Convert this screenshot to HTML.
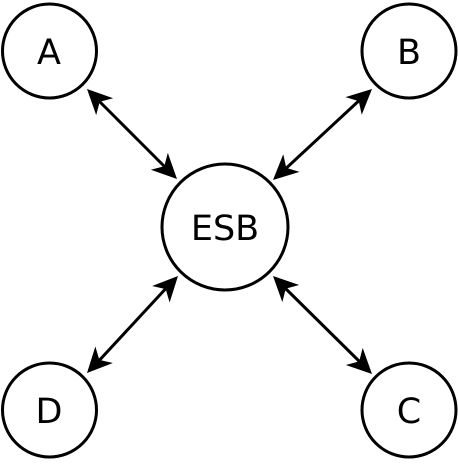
<!DOCTYPE html>
<html><head><meta charset="utf-8"><style>
html,body{margin:0;padding:0;background:#fff;}
svg{display:block;}
text{font-family:"DejaVu Sans","Liberation Sans",sans-serif;font-size:35px;}
</style></head><body>
<svg width="458" height="464" viewBox="0 0 458 464" xmlns="http://www.w3.org/2000/svg">
<defs>
<path id="h" d="M0,0 L-25,-12 L-18,0 L-25,12 Z" fill="#000"/>
</defs>
<g fill="#fff" stroke="#000" stroke-width="3">
<circle cx="49.5" cy="51" r="47"/>
<circle cx="409" cy="51" r="47"/>
<circle cx="49.5" cy="410" r="47"/>
<circle cx="409" cy="410" r="47"/>
<circle cx="225" cy="227" r="63"/>
</g>
<g stroke="#000" stroke-width="3">
<line x1="95" y1="97" x2="169" y2="171"/>
<line x1="364" y1="96" x2="281" y2="173"/>
<line x1="95" y1="365" x2="170" y2="284"/>
<line x1="364" y1="366" x2="281" y2="284"/>
</g>
<use href="#h" transform="translate(87,89) rotate(225)"/>
<use href="#h" transform="translate(177,179) rotate(45)"/>
<use href="#h" transform="translate(372,89) rotate(-42.6)"/>
<use href="#h" transform="translate(273,180) rotate(137.4)"/>
<use href="#h" transform="translate(87,373) rotate(133.2)"/>
<use href="#h" transform="translate(178,276) rotate(-46.8)"/>
<use href="#h" transform="translate(372,374) rotate(44.7)"/>
<use href="#h" transform="translate(273,276) rotate(-135.3)"/>
<g text-anchor="middle" fill="#000">
<text x="49" y="64">A</text>
<text x="409" y="64">B</text>
<text x="49" y="423">D</text>
<text x="409" y="423">C</text>
<text x="225" y="240">ESB</text>
</g>
</svg>
</body></html>
